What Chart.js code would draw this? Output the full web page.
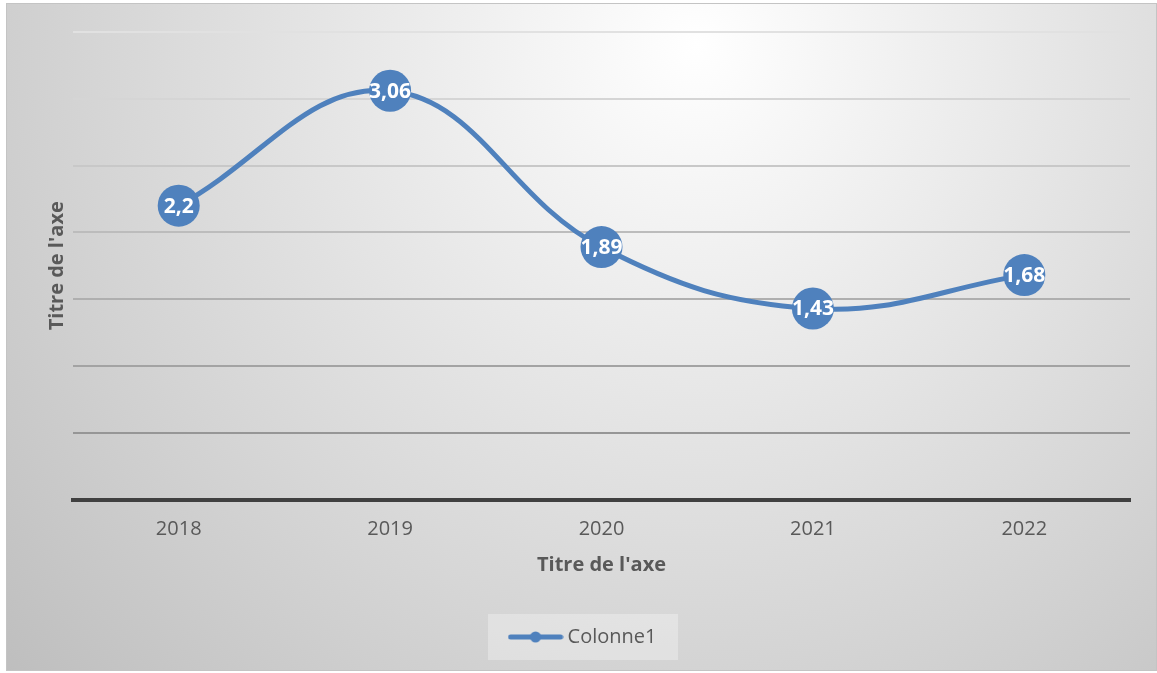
<!DOCTYPE html>
<html>
<head>
<meta charset="utf-8">
<script src="https://cdn.jsdelivr.net/npm/chart.js@4.4.1/dist/chart.umd.min.js"></script>
<style>
  html, body { margin: 0; padding: 0; background: #fff; }
  #box { position: absolute; left: 6px; top: 3px; width: 1149px; height: 666px; border: 1px solid #c4c4c4; }
  canvas { display: block; }
</style>
</head>
<body>
<div id="box"><canvas id="chart" width="1149" height="666"></canvas></div>
<script>
// données
const years = ["2018", "2019", "2020", "2021", "2022"];
const values = [2.2, 3.06, 1.89, 1.43, 1.68];
const seriesName = "Colonne1";
const axisTitle = "Titre de l'axe";
const yMin = 0, yMax = 3.5, yStep = 0.5;

const blue = "#4f81bd";
const txt = "#595959";
const FONT = "'Open Sans', sans-serif";

// symbole de légende : ligne + point
const sym = document.createElement("canvas");
sym.width = 56; sym.height = 14;
const sctx = sym.getContext("2d");
sctx.strokeStyle = blue; sctx.lineWidth = 5; sctx.lineCap = "round";
sctx.beginPath(); sctx.moveTo(3, 7); sctx.lineTo(53, 7); sctx.stroke();
sctx.fillStyle = blue;
sctx.beginPath(); sctx.arc(28, 7, 5.5, 0, Math.PI * 2); sctx.fill();

// fond dégradé + cadre de légende
const background = {
  id: "background",
  beforeDraw(chart) {
    const c = chart.ctx;
    const g = c.createRadialGradient(690, 40, 0, 690, 40, 950);
    g.addColorStop(0, "#ffffff");
    g.addColorStop(1, "#bdbdbd");
    c.save();
    c.fillStyle = g;
    c.fillRect(0, 0, chart.width, chart.height);
    const lg = chart.legend;
    const cx = (lg.left + lg.right) / 2 - 2;
    const cy = lg.top + 20;
    c.fillStyle = "rgba(255,255,255,0.3)";
    c.fillRect(cx - 95, cy - 23, 190, 46);
    c.restore();
  }
};

// étiquettes de données
const dataLabels = {
  id: "dataLabels",
  afterDatasetsDraw(chart) {
    const c = chart.ctx;
    const meta = chart.getDatasetMeta(0);
    c.save();
    c.fillStyle = "#ffffff";
    c.font = "bold 21px " + FONT;
    c.textAlign = "center";
    c.textBaseline = "middle";
    meta.data.forEach((pt, i) => {
      c.fillText(String(values[i]).replace(".", ","), pt.x, pt.y + 1);
    });
    c.restore();
  }
};

new Chart(document.getElementById("chart"), {
  type: "line",
  data: {
    labels: years,
    datasets: [{
      label: seriesName,
      data: values,
      borderColor: blue,
      backgroundColor: blue,
      borderWidth: 5,
      tension: 0.4,
      pointRadius: 21,
      pointHoverRadius: 21,
      pointBackgroundColor: blue,
      pointBorderColor: blue,
      pointBorderWidth: 0,
      pointStyle: "circle"
    }]
  },
  options: {
    responsive: false,
    animation: false,
    layout: { padding: { left: 33, right: 26, top: 28, bottom: 13 } },
    plugins: {
      tooltip: { enabled: false },
      legend: {
        position: "bottom",
        labels: {
          usePointStyle: true,
          pointStyleWidth: 44,
          padding: 10,
          color: txt,
          font: { family: FONT, size: 20 },
          generateLabels: chart => [{
            text: seriesName, pointStyle: sym, fontColor: txt,
            lineWidth: 0, strokeStyle: "transparent", fillStyle: blue, datasetIndex: 0
          }]
        }
      }
    },
    scales: {
      x: {
        offset: true,
        grid: { display: false, drawTicks: false },
        border: { display: true, color: "#404040", width: 4 },
        ticks: { color: txt, padding: 18, font: { family: FONT, size: 20 } },
        title: { display: true, text: axisTitle, color: txt, padding: { top: 0, bottom: 40 },
                 font: { family: FONT, size: 20, weight: "bold" } },
        afterFit: s => { s.height = 117.5; }
      },
      y: {
        min: yMin, max: yMax,
        ticks: { display: false, stepSize: yStep },
        border: { display: false },
        grid: {
          drawTicks: false,
          lineWidth: 2,
          color: c => {
            const v = c.tick.value;
            if (v <= yMin) return "rgba(0,0,0,0)";
            const t = (v - yStep) / (yMax - yStep);
            const k = Math.round(150 + t * 75);
            return `rgb(${k},${k},${k})`;
          }
        },
        title: { display: true, text: axisTitle, color: txt, padding: { top: 5, bottom: 0 },
                 font: { family: FONT, size: 20, weight: "bold" } },
        afterFit: s => { s.width = 33; }
      }
    }
  },
  plugins: [background, dataLabels]
});
</script>
</body>
</html>
